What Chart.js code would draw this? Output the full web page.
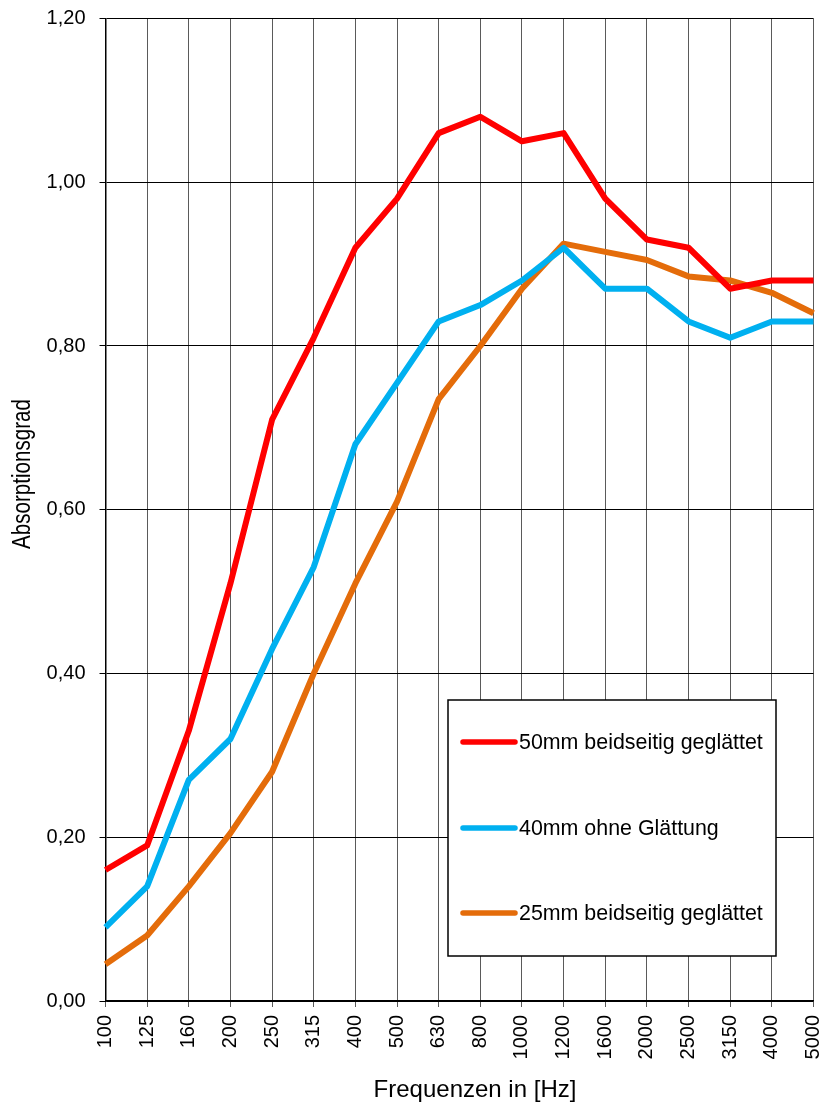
<!DOCTYPE html>
<html lang="de">
<head>
  <meta charset="UTF-8" />
  <title>Absorptionsgrad</title>
  <script src="https://cdn.jsdelivr.net/npm/chart.js"></script>
  <style>
    html, body { margin: 0; padding: 0; background: #fff; }
    #wrap { width: 823px; height: 1108px; }
  </style>
</head>
<body>
  <div id="wrap"><canvas id="absChart" width="823" height="1108"></canvas></div>

  <script>
    const frequencies = ['100', '125', '160', '200', '250', '315', '400', '500', '630', '800',
                         '1000', '1200', '1600', '2000', '2500', '3150', '4000', '5000'];
    const series50 = [0.16, 0.19, 0.33, 0.51, 0.71, 0.81, 0.92, 0.98, 1.06, 1.08,
                      1.05, 1.06, 0.98, 0.93, 0.92, 0.87, 0.88, 0.88];
    const series40 = [0.09, 0.14, 0.27, 0.32, 0.43, 0.53, 0.68, 0.755, 0.83, 0.85,
                      0.88, 0.92, 0.87, 0.87, 0.83, 0.81, 0.83, 0.83];
    const series25 = [0.045, 0.08, 0.14, 0.205, 0.28, 0.40, 0.51, 0.61, 0.735, 0.80,
                      0.87, 0.925, 0.915, 0.905, 0.885, 0.88, 0.865, 0.84];
    const labels = ['50mm beidseitig geglättet', '40mm ohne Glättung', '25mm beidseitig geglättet'];
    const yTicks = [0, 0.2, 0.4, 0.6, 0.8, 1.0, 1.2];
    const yTitle = 'Absorptionsgrad';
    const xTitle = 'Frequenzen in [Hz]';

    const FONT = 'Liberation Sans, Arial, sans-serif';

    // legend box sits inside the plot; axis titles are a bit off-centre in the original
    const extras = {
      id: 'extras',
      afterDraw(chart) {
        const ctx = chart.ctx;
        ctx.save();

        const x = 448, y = 700, w = 328, h = 256;
        ctx.fillStyle = '#fff';
        ctx.fillRect(x, y, w, h);
        ctx.strokeStyle = '#000';
        ctx.lineWidth = 1.5;
        ctx.strokeRect(x, y, w, h);
        ctx.font = '21.4px ' + FONT;
        ctx.textBaseline = 'middle';
        ctx.lineCap = 'round';
        const rows = [742, 828, 913];
        chart.data.datasets.forEach((ds, i) => {
          ctx.strokeStyle = ds.borderColor;
          ctx.lineWidth = 5.5;
          ctx.beginPath();
          ctx.moveTo(463, rows[i]);
          ctx.lineTo(515, rows[i]);
          ctx.stroke();
          ctx.fillStyle = '#000';
          ctx.fillText(ds.label, 519, rows[i] + 1);
        });

        ctx.fillStyle = '#000';
        ctx.textAlign = 'center';
        ctx.font = '24px ' + FONT;
        ctx.fillText(xTitle, 475, 1090);

        ctx.font = '26px ' + FONT;
        const tw = ctx.measureText(yTitle).width;
        ctx.translate(23, 474);
        ctx.rotate(-Math.PI / 2);
        ctx.scale(150 / tw, 1);
        ctx.fillText(yTitle, 0, 0);
        ctx.restore();
      }
    };

    const ctx = document.getElementById('absChart').getContext('2d');
    new Chart(ctx, {
      type: 'line',
      data: {
        labels: frequencies,
        datasets: [
          { label: labels[0], data: series50, borderColor: '#ff0000' },
          { label: labels[1], data: series40, borderColor: '#00b0f0' },
          { label: labels[2], data: series25, borderColor: '#e46c0a' }
        ].map(d => Object.assign(d, {
          borderWidth: 6, pointRadius: 0, tension: 0, fill: false,
          borderJoinStyle: 'round', borderCapStyle: 'butt'
        }))
      },
      options: {
        responsive: false,
        animation: false,
        layout: { padding: { top: 18.5, right: 9.5, left: 0, bottom: 0 } },
        plugins: { legend: { display: false }, tooltip: { enabled: false } },
        scales: {
          x: {
            offset: false,
            afterFit: s => { s.height = 107; s.paddingLeft = 0; s.paddingRight = 0; },
            grid: { color: '#5a5a5a', lineWidth: 1, tickLength: 6, offset: false },
            border: { color: '#000', width: 1.5 },
            ticks: {
              color: '#000', font: { family: FONT, size: 20 },
              minRotation: 90, maxRotation: 90, padding: 8, autoSkip: false
            },
            title: { display: false }
          },
          y: {
            min: 0, max: 1.2,
            afterFit: s => { s.width = 105.5; s.paddingTop = 0; s.paddingBottom = 0; },
            afterBuildTicks: s => { s.ticks = yTicks.map(v => ({ value: v })); },
            grid: { color: '#000', lineWidth: 1, tickLength: 6 },
            border: { color: '#000', width: 1.5 },
            ticks: {
              color: '#000', font: { family: FONT, size: 20 }, padding: 14,
              callback: v => v.toFixed(2).replace('.', ',')
            },
            title: { display: false }
          }
        }
      },
      plugins: [extras]
    });
  </script>
</body>
</html>
